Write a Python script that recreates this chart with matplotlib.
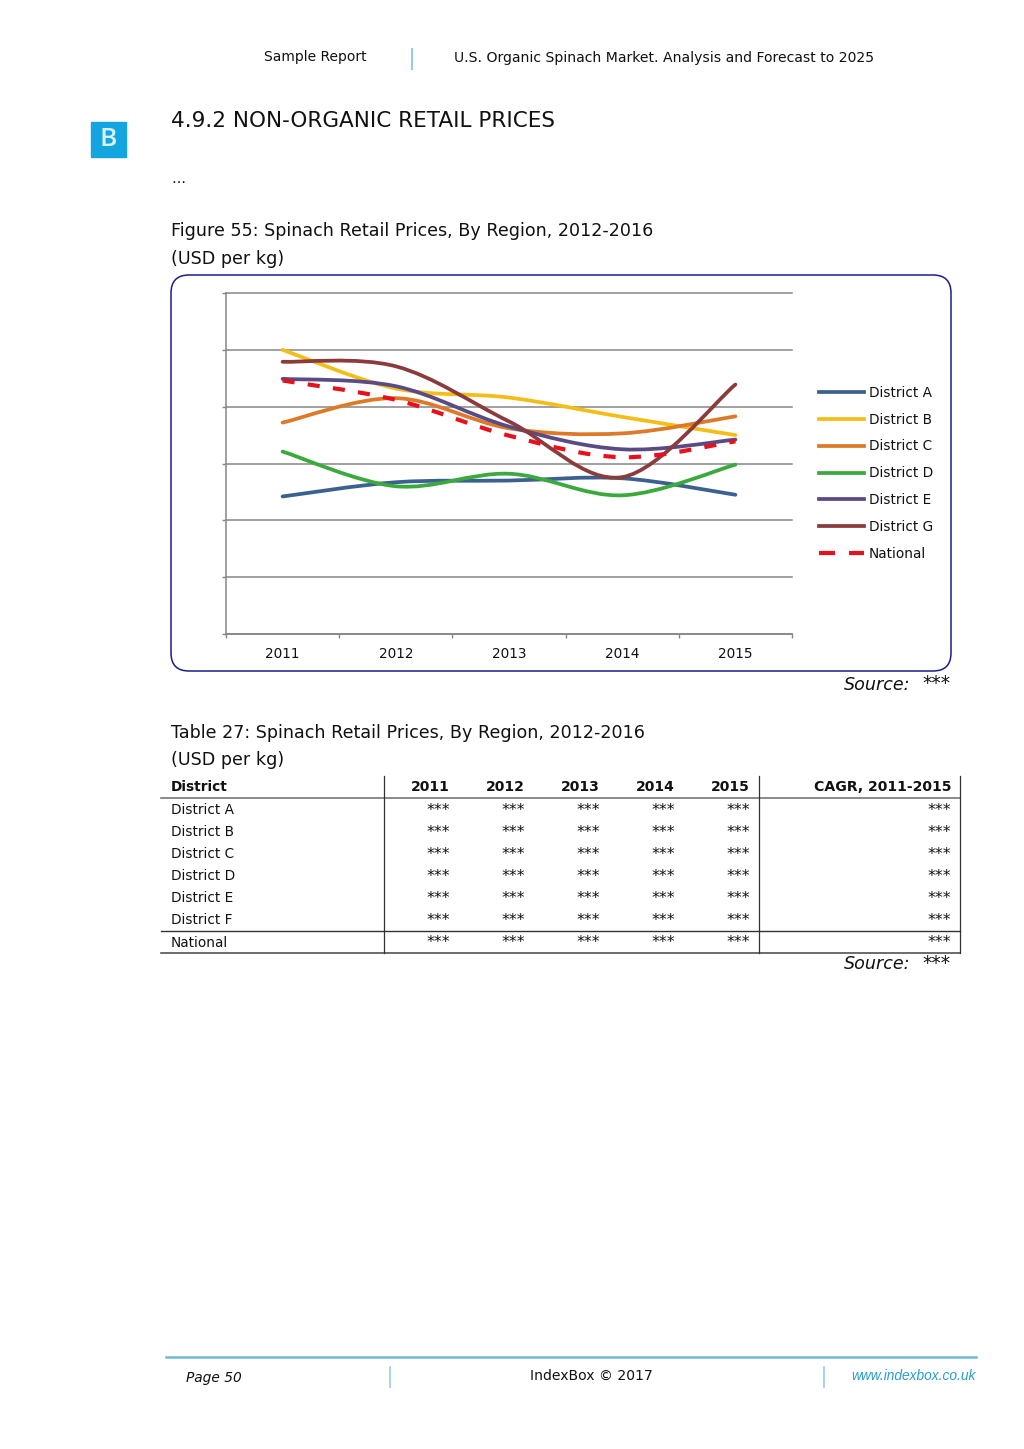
import matplotlib
matplotlib.use('Agg')
import matplotlib.pyplot as plt
from matplotlib.lines import Line2D
from matplotlib.patches import FancyBboxPatch, PathPatch, Rectangle
from matplotlib.path import Path

# values (USD per kg, the axis has no numbers so 1 unit = 1 gridline)
years = ['2011', '2012', '2013', '2014', '2015']
district_a = [2.42, 2.67, 2.70, 2.74, 2.45]
district_b = [5.00, 4.32, 4.16, 3.82, 3.50]
district_c = [3.72, 4.15, 3.62, 3.53, 3.83]
district_d = [3.21, 2.60, 2.82, 2.44, 2.98]
district_e = [4.49, 4.36, 3.65, 3.25, 3.42]
district_g = [4.79, 4.71, 3.74, 2.76, 4.39]
national = [4.46, 4.12, 3.49, 3.11, 3.39]

series_names = ['District A', 'District B', 'District C', 'District D',
                'District E', 'District G', 'National']
series_values = [district_a, district_b, district_c, district_d,
                 district_e, district_g, national]
series_colors = ['#3B6191', '#F4BD18', '#DC7A28', '#3BA93D',
                 '#5A4A86', '#8B3B3B', '#E8101C']

table_rows = ['District A', 'District B', 'District C', 'District D',
              'District E', 'District F', 'National']
table_header = ['2011', '2012', '2013', '2014', '2015', 'CAGR, 2011-2015']
hidden_value = '***'

W, H = 1024, 1449
fig = plt.figure(figsize=(W / 100, H / 100), dpi=100)

# page axes in pixels, y goes down
page = fig.add_axes([0, 0, 1, 1])
page.set_xlim(0, W)
page.set_ylim(H, 0)
page.axis('off')


def txt(x, y, s, size, ha='left', **kw):
    kw.setdefault('color', '#111111')
    return page.text(x, y, s, fontsize=size, ha=ha, va='center', **kw)


def source_note(y):
    txt(910, y, 'Source:', 12.6, ha='right', style='italic')
    txt(951, y - 1, hidden_value, 13.4, ha='right', style='italic')


# header
txt(264, 57, 'Sample Report', 10)
txt(454, 58, 'U.S. Organic Spinach Market. Analysis and Forecast to 2025', 10.08)
page.plot([412, 412], [49, 69], color='#9CCBE0', lw=1.5)
txt(171, 121, '4.9.2 NON-ORGANIC RETAIL PRICES', 15.5)
page.add_patch(Rectangle((91, 122), 35, 35, color='#12A5E0'))
txt(108.5, 140, 'B', 19, ha='center', color='#D8F1FB', family='Open Sans', weight='semibold')
txt(171, 179, '…', 10)

# figure titles
txt(171, 231, 'Figure 55: Spinach Retail Prices, By Region, 2012-2016', 12.6)
txt(171, 259, '(USD per kg)', 12.6)
page.add_patch(FancyBboxPatch((171 + 18, 275 + 18), 780 - 36, 396 - 36,
                              boxstyle='round,pad=18,rounding_size=18',
                              fc='white', ec='#1C1C8A', lw=1.1))
source_note(685)

# chart
ax = fig.add_axes([226 / W, 1 - 634 / H, (792 - 226) / W, (634 - 293) / H])
ax.patch.set_alpha(0)
ax.set_xlim(0, 5)
ax.set_ylim(0, 6)
ax.set_yticks(range(7))
ax.set_yticklabels([])
ax.set_xticks(range(6))
ax.set_xticklabels([])
ax.set_xticks([i + 0.5 for i in range(5)], years, minor=True)
ax.tick_params(axis='x', which='minor', length=0, labelsize=9.8, pad=9,
               labelcolor='#111111')
ax.tick_params(axis='both', which='major', length=3, color='#868686', width=1)
ax.grid(axis='y', color='#868686', lw=1.1, clip_on=False)
ax.set_axisbelow(True)
for side in ['top', 'right']:
    ax.spines[side].set_visible(False)
for side in ['left', 'bottom']:
    ax.spines[side].set_color('#868686')
    ax.spines[side].set_linewidth(1.1)


def smooth_path(vals):
    # same kind of smoothing as the spreadsheet line: bezier through the points
    xs = [i + 0.5 for i in range(len(vals))]
    verts = [(xs[0], vals[0])]
    codes = [Path.MOVETO]
    for i in range(len(vals) - 1):
        i0 = max(i - 1, 0)
        i3 = min(i + 2, len(vals) - 1)
        verts.append((xs[i] + (xs[i + 1] - xs[i0]) / 6, vals[i] + (vals[i + 1] - vals[i0]) / 6))
        verts.append((xs[i + 1] - (xs[i3] - xs[i]) / 6, vals[i + 1] - (vals[i3] - vals[i]) / 6))
        verts.append((xs[i + 1], vals[i + 1]))
        codes += [Path.CURVE4] * 3
    return Path(verts, codes)


handles = []
for name, vals, col in zip(series_names, series_values, series_colors):
    dashed = name == 'National'
    width = 3 if dashed else 2.7
    style = (0, (2.9, 3.2)) if dashed else '-'
    ax.add_patch(PathPatch(smooth_path(vals), fc='none', ec=col, lw=width,
                           linestyle=style, capstyle='butt' if dashed else 'round',
                           zorder=3))
    handles.append(Line2D([], [], color=col, lw=width,
                          linestyle=(0, (3.84, 3.36)) if dashed else '-', label=name))

page_legend = page.legend(handles=handles, loc='upper left',
                          bbox_to_anchor=(808 / W, 1 - 375 / H), frameon=False,
                          fontsize=9.8, handlelength=3.35, handletextpad=0.3,
                          labelspacing=0.94, borderpad=0.3, labelcolor='#111111')

# table
txt(171, 733, 'Table 27: Spinach Retail Prices, By Region, 2012-2016', 12.65)
txt(171, 760, '(USD per kg)', 12.65)
col_right = [450, 525, 600, 675, 750, 951]
row_y = [810, 832, 854, 876, 898, 920, 943]
txt(171, 787, 'District', 9.9, weight='bold')
for x, s in zip(col_right, table_header):
    txt(x, 787, s, 10.1, ha='right', weight='bold')
for y, name in zip(row_y, table_rows):
    txt(171, y, name, 9.8)
    for x in col_right:
        txt(x, y, hidden_value, 11.2, ha='right')
for y, col, lw in [(798, '#777777', 1.2), (931, '#333333', 1), (953, '#444444', 1.1)]:
    page.plot([161, 960], [y, y], color=col, lw=lw)
for x in [383.5, 758.5, 960]:
    page.plot([x, x], [776, 953], color='#333333', lw=0.9)
source_note(964)

# footer
page.plot([166, 976], [1357, 1357], color='#6FBBD2', lw=1.8)
page.plot([390, 390], [1367, 1387], color='#9CCBE0', lw=1.2)
page.plot([824, 824], [1367, 1387], color='#9CCBE0', lw=1.2)
txt(186, 1378, 'Page 50', 9.9, style='italic')
txt(530, 1376, 'IndexBox © 2017', 10.1)
url = txt(851, 1376, 'www.indexbox.co.uk', 9.9, style='italic', color='#2A9BD0',
          family='Liberation Sans')
url.set_clip_path(Rectangle((0, 0), 976, H, transform=page.transData))

fig.savefig('out.png', dpi=100)
